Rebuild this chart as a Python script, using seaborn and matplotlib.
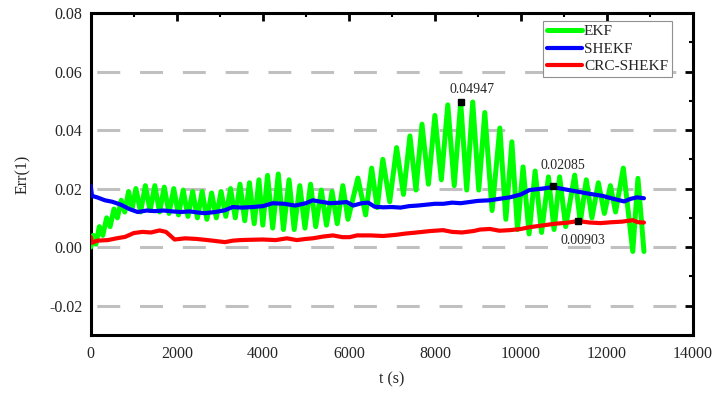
import matplotlib
matplotlib.use("Agg")
import matplotlib.pyplot as plt
from matplotlib.ticker import MultipleLocator, FormatStrFormatter
import seaborn as sns

# EKF error: peaks and troughs
ekf_t = [0, 60, 120, 200, 280, 370, 450, 540, 620, 710, 790, 880, 960,
         1050, 1160, 1270, 1380, 1490, 1600, 1710, 1820, 1930, 2040, 2150, 2260,
         2370, 2480, 2590, 2700, 2810, 2920, 3030, 3140, 3250, 3360, 3470, 3580,
         3690, 3800, 3910, 4000,
         4110, 4230, 4360, 4480, 4610, 4730, 4860, 4980, 5110, 5230, 5360, 5480,
         5610, 5730, 5860, 5980,
         6210, 6390, 6530, 6660, 6790, 6950, 7110, 7270, 7420, 7560, 7700, 7850,
         8000, 8150, 8300, 8450, 8600, 8740, 8880, 9020, 9160, 9330,
         9510, 9650, 9790, 9920, 10050, 10190, 10330, 10480, 10640, 10770, 10900,
         11040, 11250, 11380, 11520, 11650, 11800, 11940, 12080, 12200, 12380,
         12600, 12720, 12860]
ekf_v = [0.000, 0.004, 0.001, 0.007, 0.004, 0.010, 0.007, 0.013, 0.010, 0.016, 0.012, 0.019, 0.013,
         0.020, 0.012, 0.021, 0.0125, 0.021, 0.012, 0.0205, 0.0115, 0.020, 0.011, 0.0195, 0.0105,
         0.019, 0.010, 0.019, 0.0095, 0.0185, 0.010, 0.019, 0.0105, 0.020, 0.010, 0.0215, 0.009,
         0.022, 0.008, 0.023, 0.0075,
         0.0245, 0.0065, 0.025, 0.006, 0.023, 0.006, 0.021, 0.0065, 0.0215, 0.007, 0.0195, 0.0075,
         0.019, 0.008, 0.021, 0.0095,
         0.0236, 0.011, 0.027, 0.0135, 0.030, 0.0155, 0.034, 0.018, 0.038, 0.0195, 0.042, 0.0215,
         0.045, 0.023, 0.0486, 0.021, 0.0495, 0.0195, 0.0496, 0.0195, 0.046, 0.0125,
         0.0407, 0.0095, 0.036, 0.006, 0.0274, 0.0045, 0.026, 0.005, 0.024, 0.006, 0.024,
         0.007, 0.0246, 0.0085, 0.023, 0.010, 0.022, 0.0115, 0.021, 0.012, 0.027,
         -0.0015, 0.0235, -0.0015]

shekf_t = [0, 30, 150, 330, 500, 700, 900, 1090, 1300, 1490, 1700, 1900, 2090, 2300,
           2500, 2650, 2900, 3120, 3300, 3500, 3770, 4000, 4230, 4500, 4750, 5000,
           5160, 5350, 5560, 5800, 5950, 6100, 6300, 6450, 6600, 6800, 7000, 7200,
           7400, 7600, 7800, 8000, 8200, 8400, 8600, 8800, 9000, 9280, 9500, 9740,
           10000, 10200, 10500, 10740, 11000, 11300, 11600, 11900, 12150, 12400,
           12550, 12700, 12860]
shekf_v = [0.021, 0.0175, 0.017, 0.016, 0.0155, 0.0145, 0.013, 0.012, 0.0125, 0.0123,
           0.0125, 0.0122, 0.012, 0.0122, 0.0118, 0.0116, 0.012, 0.0126, 0.0137, 0.0135,
           0.0137, 0.014, 0.015, 0.0148, 0.0142, 0.015, 0.016, 0.0155, 0.015, 0.0152,
           0.0154, 0.0142, 0.015, 0.0152, 0.0138, 0.0136, 0.0137, 0.0135, 0.014, 0.0142,
           0.0145, 0.0148, 0.0148, 0.0152, 0.015, 0.0154, 0.0158, 0.016, 0.0165, 0.017,
           0.018, 0.0195, 0.020, 0.0205, 0.0198, 0.019, 0.0182, 0.0175, 0.0165, 0.0156,
           0.0165, 0.017, 0.0167]

crc_t = [0, 30, 150, 400, 600, 800, 1000, 1200, 1400, 1600, 1750, 1950, 2200, 2450,
         2720, 2950, 3120, 3300, 3470, 3700, 4000, 4300, 4560, 4790, 5000, 5160, 5400,
         5630, 5850, 6020, 6190, 6500, 6800, 7100, 7300, 7580, 7900, 8190, 8400, 8630,
         8900, 9050, 9280, 9500, 9740, 10000, 10200, 10500, 10800, 11050, 11330, 11600,
         11850, 12100, 12350, 12600, 12720, 12860]
crc_v = [0.0035, 0.0015, 0.0022, 0.0024, 0.003, 0.0035, 0.0048, 0.0052, 0.005, 0.0057,
         0.0052, 0.0026, 0.003, 0.0028, 0.0024, 0.002, 0.0017, 0.0022, 0.0024, 0.0025,
         0.0026, 0.0024, 0.003, 0.0024, 0.0028, 0.003, 0.0036, 0.004, 0.0034, 0.0034,
         0.004, 0.004, 0.0038, 0.0042, 0.0046, 0.005, 0.0055, 0.0058, 0.0052, 0.005,
         0.0055, 0.006, 0.0062, 0.0056, 0.0058, 0.0062, 0.0068, 0.0074, 0.008, 0.0083,
         0.0089, 0.0084, 0.0082, 0.0085, 0.0087, 0.0092, 0.0085, 0.0084]

# marked points and their labels
mark_t = [8600, 10740, 11330]
mark_v = [0.04947, 0.02085, 0.00903]
mark_txt = ["0.04947", "0.02085", "0.00903"]
mark_off = [(8, 9), (7, 14.5), (3.5, -14.5)]

sns.set_theme(style="white")
plt.rcParams["font.family"] = ["Liberation Serif", "DejaVu Serif"]
plt.rcParams["axes.unicode_minus"] = False

fig = plt.figure(figsize=(7.2, 3.94), dpi=100)
ax = fig.add_axes([0.126, 0.15, 0.8365, 0.817])

sns.lineplot(x=ekf_t, y=ekf_v, color="#00ff00", lw=3.6, ax=ax, label="EKF", zorder=3)
sns.lineplot(x=shekf_t, y=shekf_v, color="#0000ff", lw=3.0, ax=ax, label="SHEKF", zorder=4)
sns.lineplot(x=crc_t, y=crc_v, color="#ff0000", lw=3.0, ax=ax, label="CRC-SHEKF", zorder=5)

for t, v, s, off in zip(mark_t, mark_v, mark_txt, mark_off):
    ax.plot(t, v, marker="s", ms=5, color="black", zorder=6)
    ax.annotate(s, (t, v), xytext=off, textcoords="offset points",
                ha="center", va="center", fontsize=10)

ax.set_xlim(0, 14000)
ax.set_ylim(-0.03, 0.08)
ax.xaxis.set_major_locator(MultipleLocator(2000))
ax.xaxis.set_minor_locator(MultipleLocator(1000))
ax.yaxis.set_major_locator(MultipleLocator(0.02))
ax.yaxis.set_minor_locator(MultipleLocator(0.01))
ax.yaxis.set_major_formatter(FormatStrFormatter("%.2f"))

ax.grid(axis="y", color="#c0c0c0", lw=2.2, linestyle=(12.1, (7.5, 6.5)), zorder=0)
ax.set_axisbelow(True)

for sp in ax.spines.values():
    sp.set_linewidth(2.2)
    sp.set_color("black")
ax.tick_params(which="both", direction="in", top=True, right=True, color="black")
ax.tick_params(which="major", length=5.5, width=2, labelsize=11.5, pad=6)
ax.tick_params(which="minor", length=3, width=1.5)
ax.tick_params(axis="x", which="major", labelsize=11.5, pad=8)

ax.set_xlabel("t (s)", fontsize=11.5, labelpad=7)
ax.set_ylabel("Err(1)", fontsize=11.5, labelpad=13)

leg = ax.legend(loc="upper right", bbox_to_anchor=(0.97, 0.985), fontsize=11,
                frameon=True, fancybox=False, edgecolor="#909090", framealpha=1,
                handlelength=2.3, handletextpad=0.1, labelspacing=0.25,
                borderpad=0.25, borderaxespad=0.2)
leg.get_frame().set_linewidth(0.8)

fig.savefig("out.png", dpi=100)
